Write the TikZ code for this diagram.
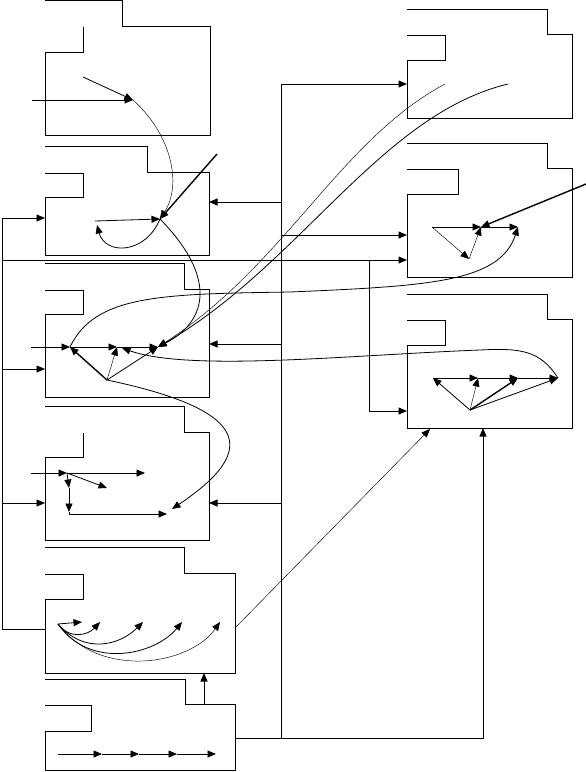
\documentclass[tikz,border=0pt]{standalone}
\usetikzlibrary{arrows.meta}

\begin{document}
\begin{tikzpicture}[x=1pt,y=-1pt,line width=0.8pt,
  arr/.style={-{Triangle[length=8.5pt,width=7pt]}},
  thinline/.style={line width=0.45pt},
  thickline/.style={line width=1.4pt}]
\useasboundingbox (0,0) rectangle (586,772);
\def\lbus{2} % x of the left bus
\def\rbus{281} % x of the right bus

% Draw the package boxes
\foreach \n/\xl/\yt/\xs/\ys/\xr/\yb/\tr/\tb/\tl in {
    A/45/0.5/122/26/210/135/83/52/83,
    B/45/146/147/172/209/255/83/197/45,
    C/45/263/184/289/209/397/83/314/45,
    D/45/406/184/432/209/540/83/457/83,
    E/45/547/184/573/235/673/83/599/45,
    F/45/679/185/704/235/770.5/91/731/45,
    G/407/9/547/34/572/118/445/60/407,
    H/407/143/547/168/572/277/458/194/407,
    I/407/294/547/319/572/428/445/345/407}{
    \draw (\xl,\yt) -- (\xs,\yt) -- (\xs,\ys) -- (\xr,\ys) -- (\xr,\yb)
        -- (\xl,\yb) -- (\xl,\tb) -- (\tr,\tb) -- (\tr,\ys+1) -- (\tl,\ys+1);
}

% Name the inner points
\foreach \n/\x/\y in {a0/32/100, a1/133/100, a2/83/77,
    b0/95/221, b1/160/219, bin/217/154,
    c0/31/347, c1/70/347, c2/117/347, c3/158/347, c4/107/380,
    d0/31/473, d1/67/473, d2/145/473, d3/107/488, d4/69/488, d5/69/512,
    d6/69/514, d7/167/514, d8/172/509,
    e0/58/624, e1/82/622, e2/100/622, e3/143/622, e4/182/622, e5/220/622,
    f0/58/754, f1/102/754, f2/139/754, f3/177/754, f4/216/754,
    g1/445/84, g2/508/84,
    h1/432/227, h2/481/227, h3/518/227, h4/469/259, hin/586/184,
    i1/433/378, i2/478/378, i3/518/378, i4/558/378, i5/470/410}{
    \coordinate (\n) at (\x,\y);
}

% Name the ports on the box sides
\foreach \n/\x/\y in {B-l/45/218, C-l/45/369, D-l/45/503, E-l/45/629,
    B-r/209/202, C-r/209/344, D-r/209/503, E-r/235/628, F-r/235/738,
    E-b/204/673, F-t/204/704, G-l/407/84, H-l1/407/235, H-l2/407/260,
    I-l/407/411, I-b/483/428, I-bl/430/429}{
    \coordinate (\n) at (\x,\y);
}
\coordinate (lb) at (\lbus,218);
\coordinate (rb) at (\rbus,84);
\coordinate (sb) at (369,260);

% Draw the buses
\draw[arr] (E-l) -| (lb) -- (B-l);
\foreach \p in {C-l,D-l,H-l2}
    \draw[arr] (lb |- \p) -- (\p);
\draw[arr] (F-r) -| (I-b);
\draw[arr] (F-r -| rb) -- (rb) -- (G-l);
\foreach \p in {B-r,C-r,D-r}
    \draw[arr] (rb |- \p) -- (\p);
\draw[arr] (rb |- H-l1) -- (H-l1);
\draw[arr] (sb) |- (I-l);
\draw[arr] (F-t) -- (E-b);
\draw[arr,thinline] (E-r) -- (I-bl);

% Draw the box A and B flows
\draw[arr] (a0) -- (a1);
\draw[arr] (a2) -- (a1);
\draw[arr,thinline] (a1) .. controls (172,135) and (182,185) .. (b1);
\draw[arr] (b0) -- (b1);
\draw[arr,thickline] (bin) -- (b1);
\draw[arr] (b1) .. controls (145,255) and (105,255) .. (97,225);
\draw[arr] (b1) .. controls (215,275) and (210,320) .. (c3);

% Draw the box C flows
\draw[arr] (c0) -- (c1);
\draw[arr] (c1) -- (c2);
\draw[arr] (c2) -- (c3);
\draw[arr,thickline] (c4) -- (c1);
\draw[arr,thinline] (c4) -- (c2);
\draw[arr] (c4) -- (c3);
\draw[arr] (c1) .. controls (95,295) and (160,294) .. (290,292)
    .. controls (430,286) and (500,282) .. (h3);
\draw[arr] (i4) .. controls (540,350) and (520,348) .. (480,350)
    .. controls (350,355) and (190,372) .. (122,348);
\draw[arr] (c4) .. controls (250,410) and (260,450) .. (d8);
\draw[arr,thinline] (g1) .. controls (340,140) and (285,265) .. (c3);
\draw[arr] (g2) .. controls (380,115) and (300,265) .. (c3);

% Draw the box D flows
\draw[arr] (d0) -- (d1);
\draw[arr] (d1) -- (d2);
\draw[arr] (d1) -- (d3);
\draw[arr] (d1) -- (d4);
\draw[arr] (d4) -- (d5);
\draw (d5) -- (d6);
\draw[arr] (d6) -- (d7);

% Draw the box E and F flows
\draw[arr] (e0) -- (e1);
\draw[arr] (e0) .. controls (70,640) and (88,635) .. (e2);
\draw[arr] (e0) .. controls (85,655) and (120,645) .. (e3);
\draw[arr] (e0) .. controls (90,670) and (155,655) .. (e4);
\draw[arr,thinline] (e0) .. controls (100,680) and (190,665) .. (e5);
\foreach \a/\b in {f0/f1,f1/f2,f2/f3,f3/f4}
    \draw[arr] (\a) -- (\b);

% Draw the box H and I flows
\draw[arr] (h1) -- (h2);
\draw[arr] (h2) -- (h3);
\draw[arr,thinline] (h1) -- (h4);
\draw[arr,thinline] (h4) -- (h2);
\draw[arr,thickline] (hin) -- (h2);
\foreach \a/\b in {i1/i2,i2/i3,i3/i4}
    \draw[arr] (\a) -- (\b);
\draw[arr] (i5) -- (i1);
\draw[arr,thinline] (i5) -- (i2);
\draw[arr,thickline] (i5) -- (i3);
\draw[arr] (i5) -- (i4);

\end{tikzpicture}
\end{document}
